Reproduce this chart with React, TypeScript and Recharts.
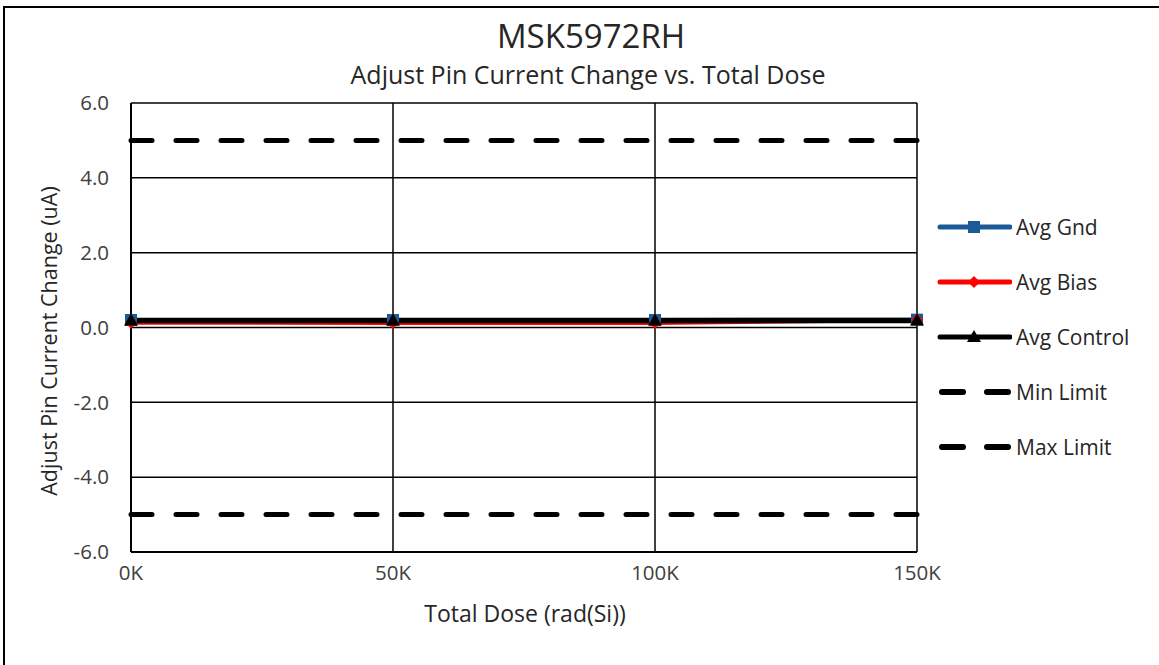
import { LineChart, Line, XAxis, YAxis, CartesianGrid } from "recharts";

const doses = [0, 50000, 100000, 150000];
const avgGnd = [0.2, 0.2, 0.2, 0.21];
const avgBias = [0.13, 0.12, 0.12, 0.2];
const avgControl = [0.19, 0.19, 0.19, 0.19];
const minLimit = [-5, -5, -5, -5];
const maxLimit = [5, 5, 5, 5];
const yTicks = [-6, -4, -2, 0, 2, 4, 6];
const xTicks = [0, 50000, 100000, 150000];

const FONT = "'Open Sans', sans-serif";
const TEXT = "#404040";

const data = doses.map((d, i) => ({
  dose: d,
  gnd: avgGnd[i],
  bias: avgBias[i],
  control: avgControl[i],
  min: minLimit[i],
  max: maxLimit[i],
}));

const SERIES = [
  { key: "gnd", name: "Avg Gnd", color: "#1B5A96", marker: "square", dashed: false },
  { key: "bias", name: "Avg Bias", color: "#FF0000", marker: "diamond", dashed: false },
  { key: "control", name: "Avg Control", color: "#000000", marker: "triangle", dashed: false },
  { key: "min", name: "Min Limit", color: "#000000", marker: "none", dashed: true },
  { key: "max", name: "Max Limit", color: "#000000", marker: "none", dashed: true },
];

function Marker({ cx, cy, shape, color }: { cx: number; cy: number; shape: string; color: string }) {
  if (cx == null || cy == null) return null;
  if (shape === "square")
    return <rect x={cx - 6} y={cy - 6} width={12} height={12} fill={color} />;
  if (shape === "diamond")
    return <polygon points={`${cx},${cy - 6} ${cx + 6},${cy} ${cx},${cy + 6} ${cx - 6},${cy}`} fill={color} />;
  if (shape === "triangle")
    return <polygon points={`${cx},${cy - 7} ${cx + 7},${cy + 5} ${cx - 7},${cy + 5}`} fill={color} />;
  return null;
}

function LegendBox() {
  return (
    <div style={{ position: "absolute", left: 936, top: 199, fontFamily: FONT, fontSize: 21, color: "#262626" }}>
      {SERIES.map((s) => (
        <div key={s.key} style={{ display: "flex", alignItems: "center", height: 55 }}>
          <svg width={76} height={20} style={{ marginRight: 4 }}>
            {s.dashed ? (
              <>
                <line x1={6} y1={10} x2={27} y2={10} stroke={s.color} strokeWidth={6} strokeLinecap="round" />
                <line x1={51} y1={10} x2={72} y2={10} stroke={s.color} strokeWidth={6} strokeLinecap="round" />
              </>
            ) : (
              <>
                <line x1={4} y1={10} x2={74} y2={10} stroke={s.color} strokeWidth={5} strokeLinecap="round" />
                <Marker cx={38} cy={10} shape={s.marker} color={s.color} />
              </>
            )}
          </svg>
          <span>{s.name}</span>
        </div>
      ))}
    </div>
  );
}

export default function App() {
  return (
    <div style={{ position: "absolute", left: 0, top: 0, width: 1159, height: 665, background: "#fff", overflow: "hidden" }}>
      <div
        style={{
          position: "absolute",
          left: 3,
          top: 6,
          width: 1170,
          height: 680,
          border: "2px solid #000",
          boxSizing: "border-box",
        }}
      />
      <div style={{ position: "absolute", left: 591, top: 35, transform: "translate(-50%, -50%)", whiteSpace: "nowrap", fontFamily: FONT, fontSize: 33, color: "#262626" }}>
        MSK5972RH
      </div>
      <div style={{ position: "absolute", left: 588, top: 74, transform: "translate(-50%, -50%)", whiteSpace: "nowrap", fontFamily: FONT, fontSize: 25, color: "#262626" }}>
        Adjust Pin Current Change vs. Total Dose
      </div>
      <div
        style={{
          position: "absolute",
          left: 48,
          top: 341,
          transform: "translate(-50%, -50%) rotate(-90deg)",
          whiteSpace: "nowrap",
          fontFamily: FONT,
          fontSize: 21.5,
          color: "#262626",
        }}
      >
        Adjust Pin Current Change (uA)
      </div>
      <div
        style={{
          position: "absolute",
          left: 525,
          top: 613,
          transform: "translate(-50%, -50%)",
          whiteSpace: "nowrap",
          fontFamily: FONT,
          fontSize: 23,
          color: "#262626",
        }}
      >
        Total Dose (rad(Si))
      </div>
      <div style={{ position: "absolute", left: 0, top: 0 }}>
        <LineChart
          width={1159}
          height={665}
          data={data}
          margin={{ top: 103, right: 242, left: 71, bottom: 83 }}
        >
          <CartesianGrid stroke="#000" strokeWidth={1.5} />
          <XAxis
            dataKey="dose"
            type="number"
            domain={[0, 150000]}
            ticks={xTicks}
            tickFormatter={(v) => `${v / 1000}K`}
            height={30}
            tickLine={false}
            tickSize={11}
            axisLine={{ stroke: "#000", strokeWidth: 2 }}
            tick={{ fontSize: 20.5, fill: TEXT, fontFamily: FONT }}
          />
          <YAxis
            type="number"
            domain={[-6, 6]}
            ticks={yTicks}
            tickFormatter={(v) => v.toFixed(1)}
            width={60}
            tickLine={false}
            tickSize={20}
            axisLine={{ stroke: "#000", strokeWidth: 2 }}
            tick={{ fontSize: 20.5, fill: TEXT, fontFamily: FONT }}
          />
          <Line dataKey="min" stroke="#000" strokeWidth={5} strokeDasharray="21 24" strokeLinecap="round" dot={false} isAnimationActive={false} />
          <Line dataKey="max" stroke="#000" strokeWidth={5} strokeDasharray="21 24" strokeLinecap="round" dot={false} isAnimationActive={false} />
          <Line
            dataKey="gnd"
            stroke="#1B5A96"
            strokeWidth={4}
            dot={(p: any) => <Marker key={`g${p.index}`} cx={p.cx} cy={p.cy} shape="square" color="#1B5A96" />}
            isAnimationActive={false}
          />
          <Line
            dataKey="bias"
            stroke="#FF0000"
            strokeWidth={4}
            dot={(p: any) => <Marker key={`b${p.index}`} cx={p.cx} cy={p.cy} shape="diamond" color="#FF0000" />}
            isAnimationActive={false}
          />
          <Line
            dataKey="control"
            stroke="#000"
            strokeWidth={5.5}
            dot={(p: any) => <Marker key={`c${p.index}`} cx={p.cx} cy={p.cy} shape="triangle" color="#000" />}
            isAnimationActive={false}
          />
        </LineChart>
      </div>
      <LegendBox />
    </div>
  );
}
